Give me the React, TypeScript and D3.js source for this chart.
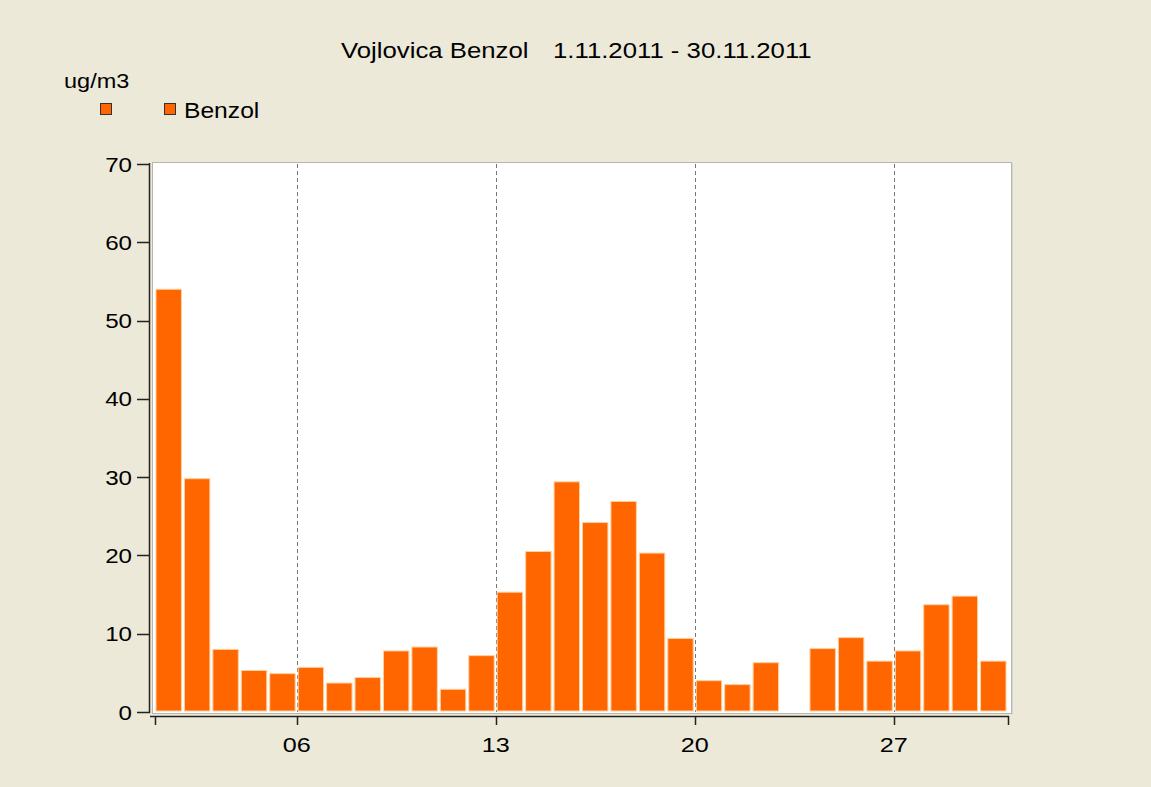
import * as d3 from 'd3';

const days: number[] = d3.range(1, 31);
const benzol: (number | null)[] = [
  54.0, 29.8, 8.0, 5.3, 4.9, 5.7, 3.7, 4.4, 7.8, 8.3,
  2.9, 7.2, 15.3, 20.5, 29.4, 24.2, 26.9, 20.3, 9.4, 4.0,
  3.5, 6.3, null, 8.1, 9.5, 6.5, 7.8, 13.7, 14.8, 6.5,
];
const labelDays: number[] = [6, 13, 20, 27];
const yTicks: number[] = [0, 10, 20, 30, 40, 50, 60, 70];

const title = 'Vojlovica Benzol';
const period = '1.11.2011 - 30.11.2011';
const unit = 'ug/m3';
const seriesName = 'Benzol';

const W = 1151, H = 787;
const font = '"Liberation Sans", Arial, sans-serif';
const orange = '#ff6600';

// the source picture is a bit stretched sideways, so text is widened too
const Txt = ({ x, y, size, sx = 1.12, anchor = 'start', children }:
  { x: number; y: number; size: number; sx?: number; anchor?: string; children: any }) => (
  <text transform={`translate(${x},${y}) scale(${sx},1)`} fontSize={size} textAnchor={anchor} fill="#000">
    {children}
  </text>
);

const App = () => {
  const day = (d: number) => new Date(2011, 10, d);
  const x = d3.scaleTime().domain([day(1), day(31)]).range([154.5, 1007.5]);
  const y = d3.scaleLinear().domain([0, 70]).range([712, 164]);
  const dayW = x(day(2)) - x(day(1));

  const bars = days
    .map((d, i) => ({ d, v: benzol[i] }))
    .filter(b => b.v !== null) as { d: number; v: number }[];

  const tickDays = [1, ...labelDays, 31];

  return (
    <svg width={W} height={H} style={{ position: 'absolute', left: 0, top: 0 }} fontFamily={font}>
      <rect width={W} height={H} fill="#ece9d9" />

      <Txt x={341} y={58} size={23}>{title}</Txt>
      <Txt x={553} y={58} size={23}>{period}</Txt>
      <Txt x={64} y={88} size={21}>{unit}</Txt>

      <rect x={100.5} y={103.5} width={11} height={11} fill={orange} stroke="#333" />
      <rect x={164.5} y={103.5} width={11} height={11} fill={orange} stroke="#333" />
      <Txt x={184} y={118} size={22}>{seriesName}</Txt>

      {/* plot area */}
      <rect x={152.5} y={162.5} width={859} height={551} fill="#fff" stroke="#b8b6ac" />
      <line x1={1012.5} y1={163} x2={1012.5} y2={715} stroke="#d8d6cc" />

      {labelDays.map(d => (
        <line key={'g' + d} x1={Math.round(x(day(d))) + 0.5} x2={Math.round(x(day(d))) + 0.5}
          y1={164} y2={712} stroke="#777" strokeDasharray="4,3" />
      ))}

      {bars.map(b => (
        <rect key={b.d}
          x={x(day(b.d)) + 1.5}
          y={y(b.v)}
          width={dayW - 3}
          height={y(0) - y(b.v) - 1}
          fill={orange}
          stroke="#ffcf9e"
          strokeWidth={1} />
      ))}

      {/* y axis */}
      <line x1={149.5} x2={149.5} y1={163} y2={713} stroke="#222" strokeWidth={1.5} />
      {yTicks.map(t => (
        <g key={'y' + t}>
          <line x1={137} x2={150} y1={Math.round(y(t)) + 0.5} y2={Math.round(y(t)) + 0.5} stroke="#222" strokeWidth={1.5} />
          <Txt x={132} y={y(t) + 7.5} size={21} sx={1.15} anchor="end">{t}</Txt>
        </g>
      ))}

      {/* x axis */}
      <line x1={150} x2={1009} y1={716.5} y2={716.5} stroke="#222" strokeWidth={1.5} />
      {tickDays.map(d => (
        <line key={'x' + d} x1={Math.round(x(day(d))) + 0.5} x2={Math.round(x(day(d))) + 0.5}
          y1={716} y2={725} stroke="#222" strokeWidth={1.5} />
      ))}
      {labelDays.map(d => (
        <Txt key={'l' + d} x={x(day(d))} y={752} size={21} sx={1.2} anchor="middle">
          {d3.timeFormat('%d')(day(d))}
        </Txt>
      ))}
    </svg>
  );
};

export default App;
